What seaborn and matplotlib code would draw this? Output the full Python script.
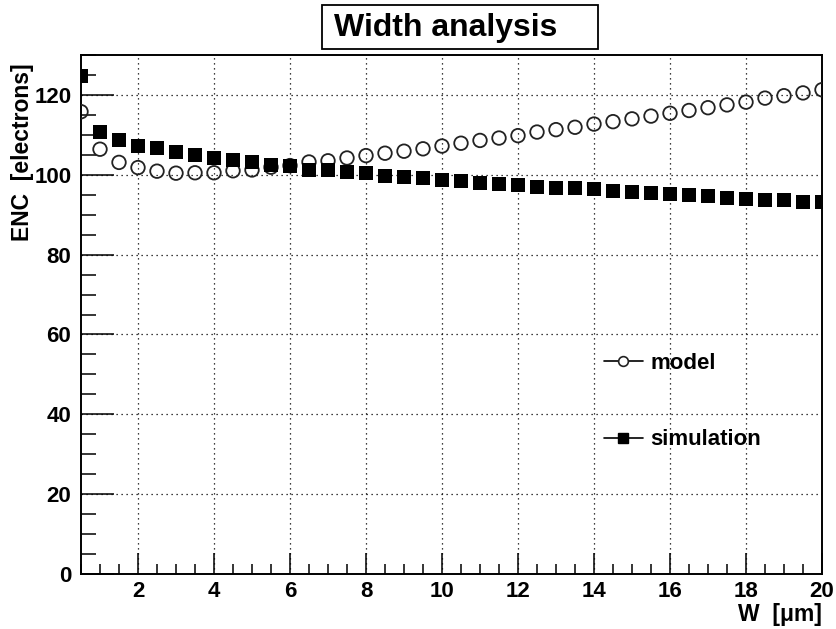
import numpy as np
import pandas as pd
import seaborn as sns
import matplotlib
matplotlib.use("Agg")
import matplotlib.pyplot as plt
from matplotlib.lines import Line2D
from matplotlib.patches import Rectangle
from matplotlib.ticker import MultipleLocator

width_um = [0.5, 1.0, 1.5, 2.0, 2.5, 3.0, 3.5, 4.0, 4.5, 5.0,
            5.5, 6.0, 6.5, 7.0, 7.5, 8.0, 8.5, 9.0, 9.5, 10.0,
            10.5, 11.0, 11.5, 12.0, 12.5, 13.0, 13.5, 14.0, 14.5, 15.0,
            15.5, 16.0, 16.5, 17.0, 17.5, 18.0, 18.5, 19.0, 19.5, 20.0]

model_enc = [115.8, 106.4, 103.1, 101.8, 100.9, 100.4, 100.5, 100.5, 101.0, 101.2,
             101.9, 102.3, 103.2, 103.5, 104.2, 104.8, 105.4, 105.9, 106.5, 107.2,
             107.9, 108.6, 109.2, 109.8, 110.7, 111.3, 111.9, 112.7, 113.3, 114.0,
             114.7, 115.4, 116.1, 116.8, 117.5, 118.2, 119.2, 119.8, 120.5, 121.3]

simulation_enc = [124.8, 110.8, 108.7, 107.3, 106.7, 105.6, 104.9, 104.2, 103.6, 103.2,
                  102.5, 102.2, 101.3, 101.2, 100.8, 100.4, 99.7, 99.4, 99.1, 98.75,
                  98.4, 98.0, 97.7, 97.4, 97.0, 96.75, 96.75, 96.4, 96.0, 95.7,
                  95.4, 95.3, 94.9, 94.6, 94.25, 93.9, 93.8, 93.6, 93.3, 93.25]

series_names = ["model", "simulation"]
title_text = "Width analysis"
xlabel_text = "W  [\u03bcm]"
ylabel_text = "ENC  [electrons]"

sns.set_theme(style="white")
plt.rcParams['font.family'] = ['Liberation Sans', 'DejaVu Sans']
plt.rcParams['font.weight'] = 'bold'
plt.rcParams['text.color'] = 'black'
plt.rcParams['axes.labelcolor'] = 'black'
plt.rcParams['xtick.color'] = 'black'
plt.rcParams['ytick.color'] = 'black'

df_model = pd.DataFrame({"W": width_um, "ENC": model_enc})
df_sim = pd.DataFrame({"W": width_um, "ENC": simulation_enc})

W, H = 836, 629
fig = plt.figure(figsize=(W / 100, H / 100), dpi=100)
ax = fig.add_axes([81 / W, 1 - 574 / H, 741 / W, 519 / H])

sns.scatterplot(data=df_model, x="W", y="ENC", ax=ax, marker="o", s=95,
                facecolor="none", edgecolor="#222222", linewidth=1.3, zorder=3)
sns.scatterplot(data=df_sim, x="W", y="ENC", ax=ax, marker="s", s=90,
                color="black", edgecolor="black", linewidth=0, zorder=3)

ax.set_xlim(0.5, 20)
ax.set_ylim(0, 130)
ax.xaxis.set_major_locator(MultipleLocator(2))
ax.xaxis.set_minor_locator(MultipleLocator(0.5))
ax.yaxis.set_major_locator(MultipleLocator(20))
ax.yaxis.set_minor_locator(MultipleLocator(5))

ax.grid(True, which="major", color="black", linestyle=(0, (1, 3)), linewidth=0.9)
ax.set_axisbelow(True)

for sp in ax.spines.values():
    sp.set_color("black")
    sp.set_linewidth(1.4)

ax.tick_params(axis="both", which="both", direction="in", colors="black",
               labelcolor="black",
               bottom=True, left=True, top=False, right=False, width=1.1)
ax.tick_params(axis="y", which="major", length=24, labelsize=16, pad=7)
ax.tick_params(axis="y", which="minor", length=11)
ax.tick_params(axis="x", which="major", length=15, labelsize=16, pad=5)
ax.tick_params(axis="x", which="minor", length=7.5)
for lab in ax.get_xticklabels() + ax.get_yticklabels():
    lab.set_fontweight("bold")
    lab.set_color("black")

ax.set_xlabel(xlabel_text, fontsize=16.5, fontweight="bold", loc="right",
              labelpad=1, color="black")
ax.set_ylabel(ylabel_text, fontsize=16.5, fontweight="bold", loc="top",
              color="black")
ax.yaxis.set_label_coords(-0.063, (574 - 63) / 519)

fig.patches.append(Rectangle((322 / W, 1 - 49 / H), 276 / W, 44 / H,
                             transform=fig.transFigure, facecolor="white",
                             edgecolor="black", linewidth=1.3))
fig.text(446 / W, 1 - 28 / H, title_text, ha="center", va="center",
         fontsize=23, fontweight="bold", color="black")

handles = [
    Line2D([], [], color="black", linewidth=1.2, marker="o", markersize=7,
           markerfacecolor="white", markeredgecolor="#222222", markeredgewidth=1.2),
    Line2D([], [], color="black", linewidth=1.2, marker="s", markersize=7,
           markerfacecolor="black", markeredgecolor="black"),
]
leg = ax.legend(handles, series_names, loc="center left",
                bbox_to_anchor=((604 - 81) / 741, (574 - 401.5) / 519),
                frameon=False, borderpad=0, borderaxespad=0,
                prop={"size": 16, "weight": "bold"},
                labelspacing=2.5, handlelength=1.75, handletextpad=0.35)
for t in leg.get_texts():
    t.set_color("black")

fig.savefig("out.png", dpi=100)
